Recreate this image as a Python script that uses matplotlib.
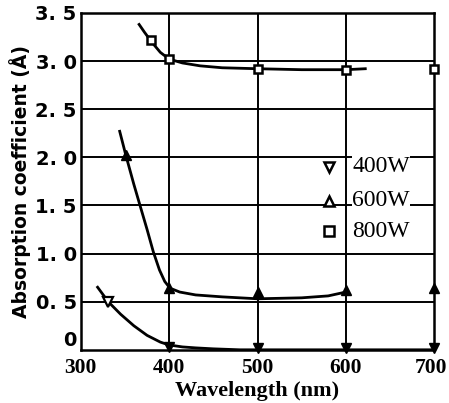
import matplotlib
matplotlib.use("Agg")
import matplotlib.pyplot as plt
import matplotlib.transforms as mtransforms

# measured points (wavelength nm, absorption coefficient)
wl_400 = [331, 400, 500, 600, 700]
k_400 = [0.50, 0.03, 0.02, 0.02, 0.02]
wl_600 = [351, 400, 500, 600, 700]
k_600 = [2.02, 0.64, 0.60, 0.62, 0.64]
wl_800 = [380, 400, 500, 600, 700]
k_800 = [3.22, 3.02, 2.92, 2.91, 2.92]

# hand-drawn trend curves
cw_400 = [319, 331, 345, 360, 375, 390, 400, 415, 430, 450, 480, 700]
ck_400 = [0.65, 0.50, 0.37, 0.25, 0.15, 0.08, 0.05, 0.03, 0.02, 0.01, 0.0, 0.0]
cw_600 = [344, 351, 360, 367, 375, 382, 389, 395, 401, 412, 430, 460, 500, 550, 580, 600]
ck_600 = [2.27, 2.02, 1.72, 1.50, 1.25, 1.02, 0.83, 0.71, 0.64, 0.60, 0.57, 0.55, 0.53, 0.54, 0.56, 0.60]
cw_800 = [366, 372, 380, 390, 400, 415, 435, 460, 500, 550, 600, 622]
ck_800 = [3.38, 3.30, 3.20, 3.09, 3.02, 2.98, 2.95, 2.93, 2.92, 2.91, 2.91, 2.92]

xticks = [300, 400, 500, 600, 700]
yticks = [0, 0.5, 1.0, 1.5, 2.0, 2.5, 3.0, 3.5]
ytick_labels = ["0", "0. 5", "1. 0", "1. 5", "2. 0", "2. 5", "3. 0", "3. 5"]

legend_names = ["400W", "600W", "800W"]
legend_marks = ["v", "^", "s"]
legend_y = [1.90, 1.55, 1.23]

fig = plt.figure(figsize=(4.49, 4.03), dpi=100)
ax = fig.add_axes([0.180, 0.132, 0.787, 0.836])

ax.set_xlim(300, 700)
ax.set_ylim(0, 3.5)

# grid lines
for y in yticks[1:-1]:
    ax.axhline(y, color="black", lw=1.4, zorder=1)
for x in xticks[1:-1]:
    ax.axvline(x, color="black", lw=1.4, zorder=1)

ax.plot(cw_400, ck_400, color="black", lw=2.0, zorder=3)
ax.plot(cw_600, ck_600, color="black", lw=2.0, zorder=3)
ax.plot(cw_800, ck_800, color="black", lw=2.0, zorder=3)

ax.plot(wl_400[:1], k_400[:1], "v", ms=7, mfc="white", mec="black", mew=1.6, zorder=4)
ax.plot(wl_400[1:], k_400[1:], "v", ms=7, mfc="black", mec="black", zorder=4, clip_on=False)
ax.plot(wl_600, k_600, "^", ms=7, mfc="black", mec="black", zorder=4, clip_on=False)
ax.plot(wl_800, k_800, "s", ms=6, mfc="white", mec="black", mew=1.8, zorder=4, clip_on=False)

# legend drawn inside the grid
for name, mk, y in zip(legend_names, legend_marks, legend_y):
    ax.plot([581], [y], mk, ms=6.5, mfc="white", mec="black", mew=1.8, zorder=4)
    ax.text(607, y, name, fontsize=17, family="Liberation Serif", va="center", ha="left",
            bbox=dict(facecolor="white", edgecolor="none", pad=0.3), zorder=3)

for s in ax.spines.values():
    s.set_linewidth(1.8)

ax.set_xticks(xticks)
ax.set_xticklabels([str(t) for t in xticks], fontsize=15.5, fontweight="bold", family="Liberation Serif")
ax.set_yticks(yticks)
ax.set_yticklabels(ytick_labels, fontsize=14, fontweight="bold", family="DejaVu Sans")
ax.tick_params(axis="y", length=0, pad=3)
ax.tick_params(axis="x", length=0, pad=6)
ax.get_yticklabels()[0].set_verticalalignment("bottom")
last = ax.get_xticklabels()[-1]
last.set_transform(last.get_transform() + mtransforms.ScaledTranslation(-3 / 100, 0, fig.dpi_scale_trans))

ax.set_xlabel("Wavelength (nm)", fontsize=16, fontweight="bold", family="Liberation Serif", labelpad=2)
ax.set_ylabel("Absorption coefficient (Å)", fontsize=13.5, fontweight="bold", family="DejaVu Sans", labelpad=3)

fig.savefig("out.png", dpi=100)
